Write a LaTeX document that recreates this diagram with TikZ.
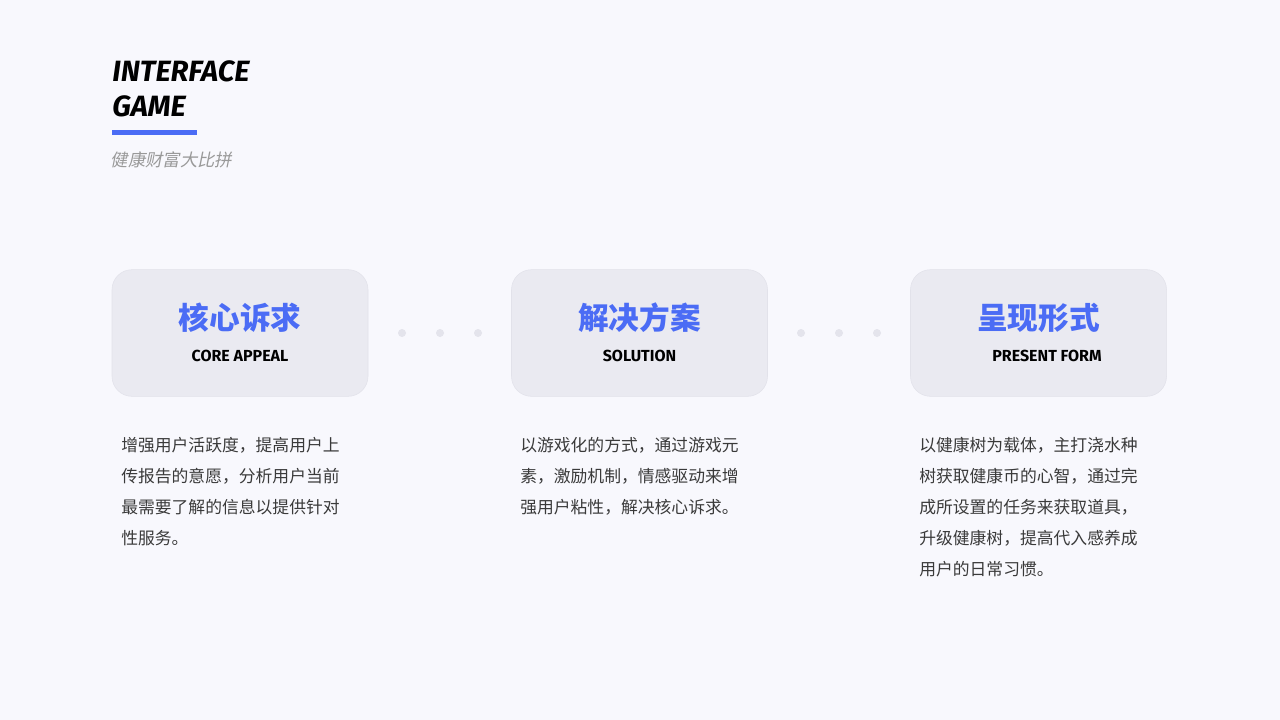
\documentclass[tikz,border=0pt]{standalone}
\usepackage{fontspec}
\setmainfont{Fira Sans}
\newfontfamily\cjk{Noto Sans CJK SC}
\usetikzlibrary{positioning}
\definecolor{bgc}{HTML}{F8F8FD}
\definecolor{boxc}{HTML}{EAEAF1}
\definecolor{boxline}{HTML}{E2E2EA}
\definecolor{blu}{HTML}{4B6CF5}
\definecolor{txt}{HTML}{3A3A3A}
\definecolor{dotc}{HTML}{E4E4EC}
\begin{document}
\begin{tikzpicture}
    [x=0.75pt,y=-0.75pt,
     card/.style={draw=boxline,fill=boxc,rounded corners=15pt,minimum width=192pt,minimum height=95pt,inner sep=0pt},
     zh/.style={font=\cjk\bfseries\fontsize{23}{25}\selectfont,text=blu},
     en/.style={font=\bfseries\fontsize{12}{14}\selectfont,text=black},
     body/.style={font=\cjk\fontsize{12.6}{14}\selectfont,text=txt,anchor=west,inner sep=0pt},
     dot/.style={circle,fill=dotc,minimum size=6pt,inner sep=0pt}]
  \fill [bgc] (0,0) rectangle (1280,720);
  % heading
  \node [anchor=west,font=\bfseries\itshape\fontsize{22}{24}\selectfont,inner sep=0pt] (hA) at (112,71) {INTERFACE};
  \node [anchor=west,font=\bfseries\itshape\fontsize{22}{24}\selectfont,inner sep=0pt] (hB) at (112,106) {GAME};
  \fill [blu] (112,130) rectangle (197,135);
  \node [anchor=west,inner sep=0pt,text=gray!80,font=\cjk\fontsize{13}{15}\selectfont,xslant=0.2] (sub) at (112,160) {健康财富大比拼};
  % cards
  \node [card] (c1) at (240,333) {};
  \node [card] (c2) at (639.5,333) {};
  \node [card] (c3) at (1038.5,333) {};
  \node [zh] (t1) at (240,318) {核心诉求};
  \node [en] (e1) at (240,356) {CORE APPEAL};
  \node [zh] (t2) at (639.5,318) {解决方案};
  \node [en] (e2) at (639.5,356) {SOLUTION};
  \node [zh] (t3) at (1038.5,318) {呈现形式};
  \node [en] (e3) at (1047,356) {PRESENT FORM};
  % dots
  \foreach \x in {402,440,478,801,839,877}
    \node [dot] (d\x) at (\x,333) {};
  % texts
  \node [body] (a1) at (121,445) {增强用户活跃度，提高用户上};
  \node [body] (a2) at (121,476) {传报告的意愿，分析用户当前};
  \node [body] (a3) at (121,507) {最需要了解的信息以提供针对};
  \node [body] (a4) at (121,538) {性服务。};
  \node [body] (b1) at (520,445) {以游戏化的方式，通过游戏元};
  \node [body] (b2) at (520,476) {素，激励机制，情感驱动来增};
  \node [body] (b3) at (520,507) {强用户粘性，解决核心诉求。};
  \node [body] (f1) at (919,445) {以健康树为载体，主打浇水种};
  \node [body] (f2) at (919,476) {树获取健康币的心智，通过完};
  \node [body] (f3) at (919,507) {成所设置的任务来获取道具，};
  \node [body] (f4) at (919,538) {升级健康树，提高代入感养成};
  \node [body] (f5) at (919,569) {用户的日常习惯。};
\end{tikzpicture}
\end{document}
